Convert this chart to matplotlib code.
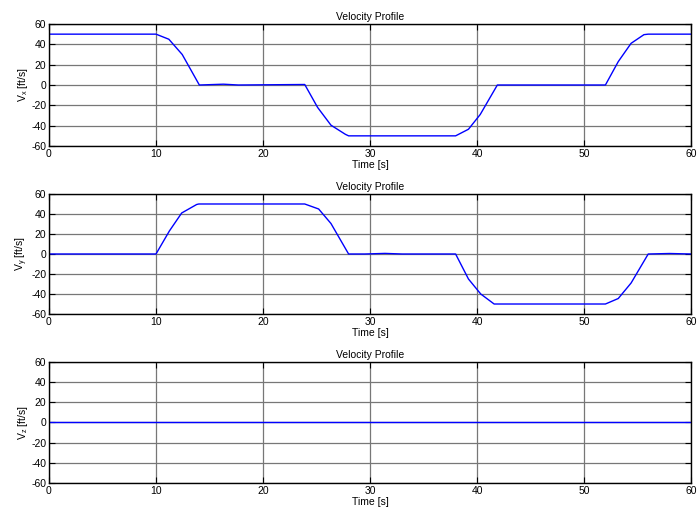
import numpy as np
import matplotlib
matplotlib.use('Agg')
import matplotlib.pyplot as plt

plt.rcParams['font.family'] = ['Liberation Sans', 'DejaVu Sans']
plt.rcParams['mathtext.fontset'] = 'custom'
plt.rcParams['mathtext.rm'] = 'Liberation Sans'
plt.rcParams['mathtext.it'] = 'Liberation Sans'
plt.rcParams['axes.unicode_minus'] = False

# velocity profile knots
t_x = [0, 10, 11.2, 12.45, 14.05, 16.3, 17.7, 23.9, 25.1, 26.35, 27.7, 28.0,
       38.0, 39.2, 40.3, 41.9, 43.1, 52.0, 53.2, 54.4, 55.6, 56.0, 60]
v_x = [50, 50, 45, 30, 0, 0.8, 0, 0.5, -22, -39.5, -48.5, -50,
       -50, -43.5, -29, 0, 0, 0, 23, 41, 49.5, 50, 50]

t_y = [0, 10, 11.25, 12.4, 13.8, 14.0, 23.9, 25.2, 26.35, 28.0, 29.5, 31.4,
       33.0, 38.0, 39.2, 40.35, 41.6, 52.0, 53.2, 54.4, 56.0, 58.0, 60]
v_y = [0, 0, 23, 41, 49.5, 50, 50, 45, 30.5, 0, 0, 0.6,
       0, 0, -25, -40, -50, -50, -44.5, -29, 0, 0.5, 0]

t_z = [0, 60]
v_z = [0, 0]

series = [(t_x, v_x, r'V$_{\rm x}$ [ft/s]'),
          (t_y, v_y, r'V$_{\rm y}$ [ft/s]'),
          (t_z, v_z, r'V$_{\rm z}$ [ft/s]')]

fig = plt.figure(figsize=(6.98, 5.18), dpi=100)
boxes = [(0.0702, 0.7181, 0.9198, 0.2356),
         (0.0702, 0.3938, 0.9198, 0.2317),
         (0.0702, 0.0676, 0.9198, 0.2336)]

fs = 7.5
for (t, v, lab), box in zip(series, boxes):
    ax = fig.add_axes(box)
    ax.plot(t, v, color='#0000ff', lw=1.0)
    ax.set_xlim(0, 60)
    ax.set_ylim(-60, 60)
    ax.set_xticks(np.arange(0, 61, 10))
    ax.set_yticks(np.arange(-60, 61, 20))
    ax.grid(True, color='#777777', lw=0.9)
    ax.set_axisbelow(True)
    ax.tick_params(direction='in', length=4, width=0.8, labelsize=fs,
                   top=True, right=True, pad=2)
    for s in ax.spines.values():
        s.set_linewidth(1.0)
    ax.set_title('Velocity Profile', fontsize=fs, pad=3)
    ax.set_xlabel('Time [s]', fontsize=fs, labelpad=1)
    ax.set_ylabel(lab, fontsize=fs, labelpad=1)

fig.savefig('out.png', dpi=100)
